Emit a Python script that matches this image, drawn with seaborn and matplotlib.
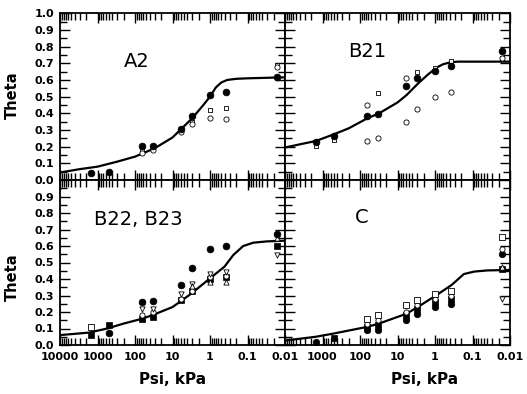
import numpy as np
import pandas as pd
import seaborn as sns
import matplotlib.pyplot as plt
from matplotlib.ticker import FixedLocator, LogLocator, MultipleLocator, NullFormatter

sns.set_theme(style='ticks')
plt.rcParams['font.family'] = ['DejaVu Sans']

# measured suction values (kPa)
psi = [1500, 500, 65, 33, 6, 3, 1, 0.37, 0.016]
psi_wet = [65, 33, 6, 3, 1, 0.37, 0.016]

# A2 horizon
a2_filled = [0.04, 0.045, 0.205, 0.205, 0.305, 0.385, 0.51, 0.53, 0.62]
a2_square = [0.175, 0.19, 0.295, 0.35, 0.42, 0.43, 0.69]
a2_open = [0.16, 0.18, 0.29, 0.335, 0.37, 0.365, 0.68]
a2_curve_psi = [10000, 3000, 1000, 300, 100, 30, 10, 3, 1.5, 1, 0.7, 0.5, 0.35, 0.2, 0.1, 0.01]
a2_curve = [0.045, 0.065, 0.08, 0.11, 0.14, 0.19, 0.255, 0.37, 0.45, 0.50, 0.555, 0.585, 0.60, 0.607, 0.61, 0.616]

# B21 horizon
b21_filled = [0.23, 0.264, 0.384, 0.396, 0.564, 0.614, 0.656, 0.684, 0.774]
b21_square = [0.204, 0.24, 0.524, 0.65, 0.67, 0.716, 0.73]
b21_square_psi = [1500, 500, 33, 3, 1, 0.37, 0.016]
b21_open1_psi = [65, 6, 0.016]
b21_open1 = [0.45, 0.61, 0.73]
b21_open2_psi = [65, 33, 6, 3, 1, 0.37]
b21_open2 = [0.236, 0.25, 0.35, 0.424, 0.50, 0.53]
b21_curve_psi = [10000, 3000, 1500, 500, 200, 64, 31, 10, 5.7, 2.8, 1.5, 0.9, 0.6, 0.4, 0.25, 0.1, 0.01]
b21_curve = [0.195, 0.22, 0.234, 0.274, 0.31, 0.37, 0.40, 0.465, 0.51, 0.58, 0.635, 0.675, 0.695, 0.705, 0.71, 0.71, 0.71]

# B22, B23 horizons
b22_filled_psi = [500, 65, 33, 6, 3, 1, 0.37, 0.016]
b22_filled = [0.07, 0.26, 0.265, 0.365, 0.465, 0.58, 0.60, 0.67]
b22_fsquare = [0.06, 0.12, 0.16, 0.17, 0.27, 0.33, 0.40, 0.41, 0.60]
b22_down = [0.22, 0.22, 0.31, 0.37, 0.43, 0.44, 0.545]
b22_open_psi = [65, 33, 6, 3, 1, 0.37]
b22_open = [0.18, 0.20, 0.28, 0.33, 0.41, 0.42]
b22_up_psi = [3, 1, 0.37, 0.016]
b22_up = [0.36, 0.38, 0.38, 0.65]
b22_square_psi = [1500]
b22_square = [0.11]
b22_curve_psi = [10000, 1700, 550, 200, 70, 35, 10, 6.3, 3.1, 1, 0.41, 0.24, 0.13, 0.07, 0.03, 0.01]
b22_curve = [0.06, 0.075, 0.10, 0.13, 0.157, 0.18, 0.23, 0.262, 0.313, 0.404, 0.475, 0.545, 0.60, 0.62, 0.628, 0.632]

# C horizon
c_filled_psi = [1500, 65, 33, 6, 3, 1, 0.37, 0.016]
c_filled = [0.02, 0.09, 0.09, 0.15, 0.19, 0.23, 0.25, 0.55]
c_fsquare_psi = [500, 65, 33, 6, 3, 1, 0.37, 0.016]
c_fsquare = [0.04, 0.11, 0.12, 0.18, 0.22, 0.26, 0.28, 0.46]
c_open = [0.13, 0.15, 0.20, 0.24, 0.28, 0.30, 0.58]
c_square = [0.16, 0.18, 0.24, 0.27, 0.31, 0.33, 0.655]
c_up_psi = [0.016]
c_up = [0.475]
c_down_psi = [0.016]
c_down = [0.28]
c_curve_psi = [10000, 1500, 490, 64, 31, 5.7, 2.8, 0.9, 0.36, 0.17, 0.09, 0.04, 0.01]
c_curve = [0.027, 0.05, 0.07, 0.11, 0.13, 0.19, 0.232, 0.303, 0.364, 0.43, 0.445, 0.452, 0.455]

decades = [1e4, 1e3, 1e2, 1e1, 1, 0.1, 0.01]
dec_labels = ['10000', '1000', '100', '10', '1', '0.1', '0.01']

fig = plt.figure(figsize=(5.27, 3.94), dpi=100)
L, M, R = 60 / 527, 285 / 527, 510 / 527
T, Mid, B = 1 - 13.3 / 394, 1 - 180 / 394, 1 - 345 / 394
ax_a2 = fig.add_axes([L, Mid, M - L, T - Mid])
ax_b21 = fig.add_axes([M, Mid, R - M, T - Mid])
ax_b22 = fig.add_axes([L, B, M - L, Mid - B])
ax_c = fig.add_axes([M, B, R - M, Mid - B])

tick_font = dict(fontsize=8, fontweight='bold')


def style(ax, xlabels, yticks):
    ax.set_xscale('log')
    ax.set_xlim(1e4, 0.01)
    ax.set_ylim(0, 1)
    ax.xaxis.set_major_locator(FixedLocator(decades))
    ax.xaxis.set_minor_locator(LogLocator(base=10, subs=np.arange(2, 10), numticks=30))
    ax.xaxis.set_minor_formatter(NullFormatter())
    ax.yaxis.set_major_locator(FixedLocator(np.arange(0, 1.01, 0.1)))
    ax.yaxis.set_minor_locator(MultipleLocator(0.05))
    ax.tick_params(which='both', direction='in', top=True, right=True,
                   color='black', width=1, labelcolor='black')
    ax.tick_params(which='major', length=7)
    ax.tick_params(which='minor', length=5)
    ax.tick_params(axis='x', pad=5)
    ax.tick_params(axis='y', pad=4)
    if xlabels is None:
        ax.set_xticklabels([])
    else:
        ax.set_xticklabels(xlabels, **tick_font)
    if yticks is None:
        ax.set_yticklabels([])
    else:
        ax.set_yticklabels(yticks, **tick_font)
    for s in ax.spines.values():
        s.set_linewidth(1.3)
        s.set_color('black')
    ax.set_xlabel('')
    ax.set_ylabel('')


def curve(ax, x, y):
    df = pd.DataFrame({'psi': x, 'theta': y})
    sns.lineplot(data=df, x='psi', y='theta', ax=ax, color='black', linewidth=1.6, sort=False)


def pts(ax, x, y, marker, filled, s=18):
    df = pd.DataFrame({'psi': x, 'theta': y})
    if filled:
        sns.scatterplot(data=df, x='psi', y='theta', ax=ax, marker=marker, s=s,
                        color='black', edgecolor='black', linewidth=0.5, zorder=3)
    else:
        sns.scatterplot(data=df, x='psi', y='theta', ax=ax, marker=marker, s=s,
                        facecolor='white', edgecolor='black', linewidth=0.6, zorder=3)


# A2
curve(ax_a2, a2_curve_psi, a2_curve)
pts(ax_a2, psi_wet, a2_square, 's', False, 12)
pts(ax_a2, psi_wet, a2_open, 'o', False, 14)
pts(ax_a2, psi, a2_filled, 'o', True, 24)

# B21
curve(ax_b21, b21_curve_psi, b21_curve)
pts(ax_b21, b21_square_psi, b21_square, 's', False, 12)
pts(ax_b21, b21_open1_psi, b21_open1, 'o', False, 14)
pts(ax_b21, b21_open2_psi, b21_open2, 'o', False, 14)
pts(ax_b21, psi, b21_filled, 'o', True, 24)

# B22, B23
curve(ax_b22, b22_curve_psi, b22_curve)
pts(ax_b22, b22_square_psi, b22_square, 's', False, 14)
pts(ax_b22, psi, b22_fsquare, 's', True, 14)
pts(ax_b22, b22_open_psi, b22_open, 'o', False, 14)
pts(ax_b22, psi_wet, b22_down, 'v', False, 14)
pts(ax_b22, b22_up_psi, b22_up, '^', False, 14)
pts(ax_b22, b22_filled_psi, b22_filled, 'o', True, 24)

# C
curve(ax_c, c_curve_psi, c_curve)
pts(ax_c, c_fsquare_psi, c_fsquare, 's', True, 14)
pts(ax_c, c_filled_psi, c_filled, 'o', True, 22)
pts(ax_c, psi_wet, c_open, 'o', False, 14)
pts(ax_c, psi_wet, c_square, 's', False, 14)
pts(ax_c, c_up_psi, c_up, '^', False, 14)
pts(ax_c, c_down_psi, c_down, 'v', False, 14)

top_y = ['0.0', '0.1', '0.2', '0.3', '0.4', '0.5', '0.6', '0.7', '0.8', '0.9', '1.0']
bot_y = top_y[:-1] + ['']
style(ax_a2, None, top_y)
style(ax_b21, None, None)
style(ax_b22, dec_labels, bot_y)
style(ax_c, [''] + dec_labels[1:], None)

for ax, name, (tx, ty) in [(ax_a2, 'A2', (0.34, 0.71)), (ax_b21, 'B21', (0.365, 0.77)),
                           (ax_b22, 'B22, B23', (0.35, 0.76)), (ax_c, 'C', (0.34, 0.77))]:
    ax.text(tx, ty, name, transform=ax.transAxes, ha='center', va='center',
            fontsize=14, color='black')

for ax, yc in [(ax_a2, 0.51), (ax_b22, 0.41)]:
    ax.set_ylabel('Theta', fontsize=10.5, fontweight='bold', color='black')
    ax.yaxis.set_label_coords(-0.18, yc)
for ax, xc in [(ax_b22, 0.5), (ax_c, 0.62)]:
    ax.set_xlabel('Psi, kPa', fontsize=11, fontweight='bold', color='black')
    ax.xaxis.set_label_coords(xc, -0.165)

fig.savefig('out.png', dpi=100)
